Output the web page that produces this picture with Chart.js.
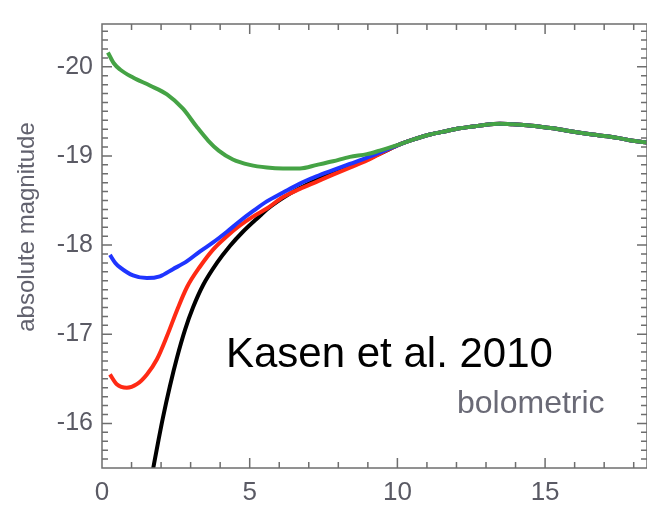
<!DOCTYPE html>
<html>
<head>
<meta charset="utf-8">
<script src="https://cdn.jsdelivr.net/npm/chart.js@4.4.1/dist/chart.umd.min.js"></script>
<style>
  html, body { margin: 0; padding: 0; background: #fff; overflow: hidden; }
  #lightCurve { display: block; }
</style>
</head>
<body>
<canvas id="lightCurve" width="647" height="506"></canvas>
<script>
// Days since explosion / absolute magnitude for each band
const greenDays = [0.2, 0.4, 0.61, 1.05, 1.62, 2.2, 2.74, 3.2, 3.6, 3.95, 4.43, 5.0, 5.58, 6.13, 6.7, 7.28, 7.82, 8.39, 8.97, 9.4];
const greenMag = [-20.16, -20.04, -19.97, -19.88, -19.79, -19.69, -19.53, -19.33, -19.17, -19.06, -18.96, -18.9, -18.87, -18.86, -18.86, -18.9, -18.94, -18.99, -19.02, -19.06];

const blueDays = [0.27, 0.45, 0.61, 1.05, 1.52, 1.96, 2.4, 2.88, 3.32, 3.76, 4.23, 4.67, 5.11, 5.58, 6.13, 6.7, 7.26, 7.82, 8.39, 8.97, 9.5];
const blueMag = [-17.89, -17.8, -17.75, -17.66, -17.63, -17.65, -17.73, -17.82, -17.93, -18.03, -18.15, -18.27, -18.38, -18.49, -18.59, -18.69, -18.77, -18.84, -18.91, -18.98, -19.05];

const redDays = [0.27, 0.5, 0.84, 1.18, 1.52, 1.86, 2.2, 2.54, 2.88, 3.32, 3.76, 4.23, 4.67, 5.11, 5.58, 6.13, 6.7, 7.26, 7.82, 8.39, 8.97, 9.5];
const redMag = [-16.55, -16.44, -16.4, -16.44, -16.55, -16.72, -16.98, -17.27, -17.53, -17.76, -17.95, -18.1, -18.22, -18.32, -18.41, -18.54, -18.63, -18.71, -18.79, -18.87, -18.95, -19.04];

const boloDays = [1.6, 1.73, 1.9, 2.06, 2.3, 2.54, 2.81, 3.08, 3.42, 3.89, 4.33, 4.77, 5.35, 5.58, 6.13, 6.7, 7.26, 7.82, 8.39, 8.97, 9.5];
const boloMag = [-15.26, -15.49, -15.79, -16.06, -16.42, -16.74, -17.05, -17.3, -17.55, -17.8, -17.99, -18.15, -18.33, -18.4, -18.53, -18.64, -18.73, -18.81, -18.88, -18.96, -19.04];

// after ~10 days all curves sit on top of each other
const tailDays = [10.08, 10.5, 11.1, 11.67, 12.1, 12.56, 13.0, 13.47, 13.9, 14.38, 14.8, 15.27, 15.7, 16.18, 16.6, 17.1, 17.5, 17.97, 18.45];
const tailMag = [-19.13, -19.18, -19.24, -19.28, -19.31, -19.33, -19.35, -19.36, -19.355, -19.345, -19.33, -19.31, -19.285, -19.26, -19.24, -19.22, -19.2, -19.17, -19.15];

const xTickLabels = [0, 5, 10, 15];
const yTickLabels = [-20, -19, -18, -17, -16];

const fontFamily = "'Liberation Sans', Arial, Helvetica, sans-serif";
const labelColor = "#5a5a64";

function toPoints(days, mags) {
  const allMags = mags.concat(tailMag);
  return days.concat(tailDays).map((d, i) => ({ x: d, y: allMags[i] }));
}

function curve(days, mags, color) {
  return {
    data: toPoints(days, mags),
    showLine: true,
    borderColor: color,
    borderWidth: 4,
    pointRadius: 0,
    cubicInterpolationMode: "monotone",
    clip: 0,
  };
}

// Box frame with inward ticks on all four sides, plus the text labels
const frameTicks = {
  id: "frameTicks",
  afterDatasetsDraw(chart) {
    const { ctx, chartArea: a, scales } = chart;
    const x = scales.x;
    const y = scales.y;
    ctx.save();
    ctx.strokeStyle = "#6e6e6e";
    ctx.lineWidth = 1.5;
    ctx.strokeRect(a.left, a.top, a.right - a.left, a.bottom - a.top);
    ctx.beginPath();
    for (let d = 1; d <= 18; d++) {
      const px = x.getPixelForValue(d);
      const len = d % 5 === 0 ? 10 : 6;
      ctx.moveTo(px, a.bottom);
      ctx.lineTo(px, a.bottom - len);
      ctx.moveTo(px, a.top);
      ctx.lineTo(px, a.top + len);
    }
    // tenths of a magnitude
    for (let i = -204; i <= -156; i++) {
      const py = y.getPixelForValue(i / 10);
      const len = i % 10 === 0 ? 10 : 6;
      ctx.moveTo(a.left, py);
      ctx.lineTo(a.left + len, py);
      ctx.moveTo(a.right, py);
      ctx.lineTo(a.right - len, py);
    }
    ctx.stroke();

    // axis title, rotated
    ctx.save();
    ctx.translate(27, 227);
    ctx.rotate(-Math.PI / 2);
    ctx.textAlign = "center";
    ctx.textBaseline = "middle";
    ctx.fillStyle = "#62626e";
    ctx.font = "24px " + fontFamily;
    ctx.fillText("absolute magnitude", 0, 0);
    ctx.restore();

    ctx.textAlign = "left";
    ctx.textBaseline = "alphabetic";
    ctx.fillStyle = "#000";
    ctx.font = "42px " + fontFamily;
    ctx.fillText("Kasen et al. 2010", 226, 367);
    ctx.fillStyle = "#6a6a76";
    ctx.font = "32px " + fontFamily;
    ctx.fillText("bolometric", 457, 413);
    ctx.restore();
  },
};

const ctx = document.getElementById("lightCurve");

new Chart(ctx, {
  type: "scatter",
  data: {
    datasets: [
      curve(greenDays, greenMag, "#45a345"),
      curve(blueDays, blueMag, "#1f35ff"),
      curve(redDays, redMag, "#ff2a14"),
      curve(boloDays, boloMag, "#000000"),
    ],
  },
  options: {
    responsive: false,
    animation: false,
    layout: { padding: { top: 13, right: 0, bottom: 0, left: 0 } },
    scales: {
      x: {
        type: "linear",
        min: 0,
        max: 18.45,
        afterBuildTicks: (scale) => {
          scale.ticks = xTickLabels.map((v) => ({ value: v }));
        },
        afterFit: (scale) => {
          scale.height = 38;
        },
        grid: { display: false, drawTicks: false },
        border: { display: false },
        ticks: {
          padding: 9,
          color: labelColor,
          font: { size: 26, family: fontFamily },
          maxRotation: 0,
        },
      },
      y: {
        reverse: true,
        min: -20.48,
        max: -15.5,
        afterBuildTicks: (scale) => {
          scale.ticks = yTickLabels.map((v) => ({ value: v }));
        },
        afterFit: (scale) => {
          scale.width = 102;
        },
        grid: { display: false, drawTicks: false },
        border: { display: false },
        ticks: {
          padding: 9,
          color: labelColor,
          font: { size: 25, family: fontFamily },
        },
      },
    },
    plugins: {
      legend: { display: false },
      tooltip: { enabled: false },
    },
  },
  plugins: [frameTicks],
});
</script>
</body>
</html>
